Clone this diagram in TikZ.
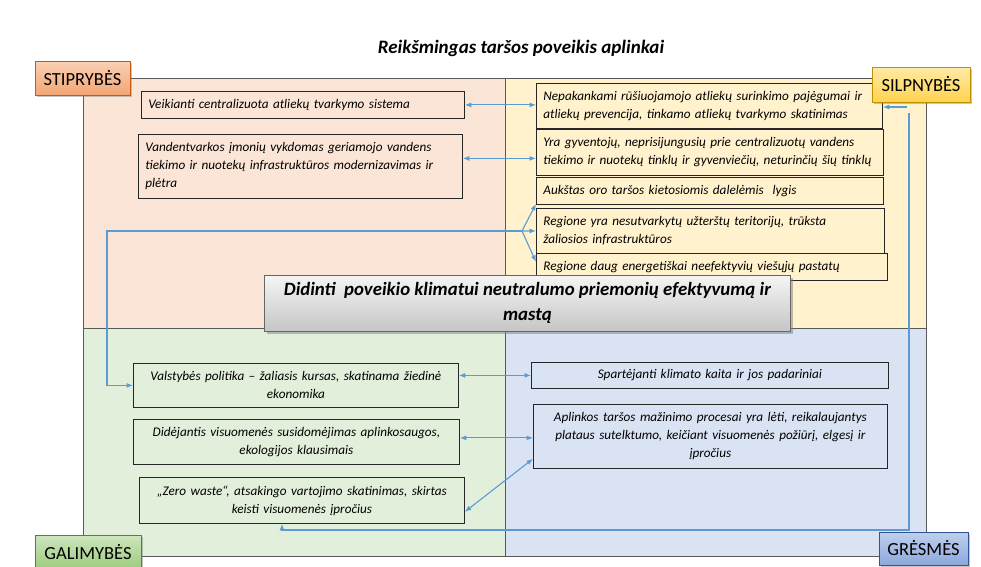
\documentclass[tikz,border=0pt]{standalone}
\usepackage{fontspec}
\setmainfont{Carlito}
\usetikzlibrary{arrows.meta,shadows,positioning}
\definecolor{strongbg}{HTML}{FBE5D6}
\definecolor{weakbg}{HTML}{FFF2CC}
\definecolor{chancebg}{HTML}{E2EFDA}
\definecolor{threatbg}{HTML}{DAE3F3}
\definecolor{linkblue}{HTML}{5B9BD5}
\definecolor{strongtop}{HTML}{FAD0B4}
\definecolor{strongbot}{HTML}{F3A674}
\definecolor{strongline}{HTML}{C55A11}
\definecolor{weaktop}{HTML}{FFEAA6}
\definecolor{weakbot}{HTML}{FFD34F}
\definecolor{weakline}{HTML}{BF9000}
\definecolor{chancetop}{HTML}{CDE6BE}
\definecolor{chancebot}{HTML}{9DCB7E}
\definecolor{chanceline}{HTML}{548235}
\definecolor{threattop}{HTML}{C0D0EC}
\definecolor{threatbot}{HTML}{8CA8DB}
\definecolor{threatline}{HTML}{2F5597}

\begin{document}
\begin{tikzpicture}[x=1pt,y=-1pt,
 box/.style={draw=black!85,line width=0.8pt,anchor=north west,inner xsep=7pt,inner ysep=1pt,
  font=\itshape\fontsize{13.2}{18}\selectfont},
 tag/.style={line width=0.8pt,inner xsep=3pt,font=\fontsize{18.5}{20}\selectfont,
  drop shadow={shadow xshift=2pt,shadow yshift=-2pt,opacity=0.45}},
 frame/.style={draw=black!65,line width=1pt},
 link/.style={draw=linkblue,line width=1.1pt},
 onearrow/.style={-{Latex[length=6.5pt,width=5pt]}},
 twoarrow/.style={{Latex[length=6.5pt,width=5pt]}-{Latex[length=6.5pt,width=5pt]}}]
\useasboundingbox (0,0) rectangle (981,566);

\fill[strongbg] (83,78) rectangle (505,328);
\fill[weakbg] (505,78) rectangle (926,328);
\fill[chancebg] (83,328) rectangle (505,556);
\fill[threatbg] (505,328) rectangle (926,556);
\draw[frame] (83,78) rectangle (926,556) (505,78) -- (505,556) (83,328) -- (926,328);

\node[font=\bfseries\itshape\fontsize{19}{22}\selectfont] (title) at (521,48) {Reikšmingas taršos poveikis aplinkai};

\node[box,fill=strongbg,text width=309pt,minimum height=27pt,align=left] (s1) at (141,91)
 {Veikianti centralizuota atliekų tvarkymo sistema};
\node[box,fill=strongbg,text width=310pt,minimum height=64pt,align=left] (s2) at (138,134)
 {Vandentvarkos įmonių vykdomas geriamojo vandens\\tiekimo ir nuotekų infrastruktūros modernizavimas ir\\plėtra};

\node[box,fill=weakbg,text width=332pt,minimum height=45pt,align=left] (w1) at (536,83)
 {Nepakankami rūšiuojamojo atliekų surinkimo pajėgumai ir\\atliekų prevencija, tinkamo atliekų tvarkymo skatinimas};
\node[box,fill=weakbg,text width=333pt,minimum height=46pt,align=left] (w2) at (536,129)
 {Yra gyventojų, neprisijungusių prie centralizuotų vandens\\tiekimo ir nuotekų tinklų ir gyvenviečių, neturinčių šių tinklų};
\node[box,fill=weakbg,text width=333pt,minimum height=27pt,align=left] (w3) at (536,177)
 {Aukštas oro taršos kietosiomis dalelėmis\ \ lygis};
\node[box,fill=weakbg,text width=334pt,minimum height=45pt,align=left] (w4) at (536,208)
 {Regione yra nesutvarkytų užterštų teritorijų, trūksta\\žaliosios infrastruktūros};
\node[box,fill=weakbg,text width=337pt,minimum height=27pt,align=left] (w5) at (536,253)
 {Regione daug energetiškai neefektyvių viešųjų pastatų};

\node[box,fill=chancebg,text width=311pt,minimum height=44pt,align=center] (o1) at (133,363)
 {Valstybės politika – žaliasis kursas, skatinama žiedinė\\ekonomika};
\node[box,fill=chancebg,text width=312pt,minimum height=45pt,align=center] (o2) at (133,419)
 {Didėjantis visuomenės susidomėjimas aplinkosaugos,\\ekologijos klausimais};
\node[box,fill=chancebg,text width=311pt,minimum height=46pt,align=center] (o3) at (139,477)
 {„Zero waste“, atsakingo vartojimo skatinimas, skirtas\\keisti visuomenės įpročius};

\node[box,fill=threatbg,text width=343pt,minimum height=26pt,align=center] (t1) at (531,362)
 {Spartėjanti klimato kaita ir jos padariniai};
\node[box,fill=threatbg,text width=340pt,minimum height=64pt,align=center] (t2) at (533,404)
 {Aplinkos taršos mažinimo procesai yra lėti, reikalaujantys\\plataus sutelktumo, keičiant visuomenės požiūrį, elgesį ir\\įpročius};

\node[draw=black!60,line width=0.8pt,anchor=north west,minimum width=526pt,minimum height=56pt,
 top color=gray!8,bottom color=gray!45,align=center,inner ysep=1pt,
 drop shadow={shadow xshift=3pt,shadow yshift=-3pt,opacity=0.5},
 font=\bfseries\itshape\fontsize{18.8}{25}\selectfont] (goal) at (264,275)
 {Didinti\ \ poveikio klimatui neutralumo priemonių efektyvumą ir\\mastą};

\node[tag,draw=strongline,top color=strongtop,bottom color=strongbot,minimum width=95pt,minimum height=34pt] (strong) at (82.5,78) {STIPRYBĖS};
\node[tag,draw=weakline,top color=weaktop,bottom color=weakbot,minimum width=98pt,minimum height=35pt] (weak) at (921,84.5) {SILPNYBĖS};
\node[tag,draw=chanceline,top color=chancetop,bottom color=chancebot,minimum width=106pt,minimum height=34pt] (chance) at (88,552) {GALIMYBĖS};
\node[tag,draw=threatline,top color=threattop,bottom color=threatbot,minimum width=89pt,minimum height=33pt] (threat) at (923.5,548.5) {GRĖSMĖS};

\coordinate (w2in) at ([yshift=-6pt]w2.west);
\coordinate (o2in) at ([yshift=4pt]o2.east);
\coordinate (fork) at (522,231);
\coordinate (bend) at (107,231);
\coordinate (wtop) at (907,107);
\coordinate (rtop) at (909,113);
\coordinate (rlow) at (909,530);
\coordinate (olow) at (282,530);

\draw[link,twoarrow] (s1.east) -- (s1.east -| w1.west);
\draw[link,twoarrow] (w2in -| s2.east) -- (w2in);
\draw[link,onearrow] (fork) -- (w4.west);
\draw[link,onearrow] (fork) -- ([yshift=1pt]w3.south west);
\draw[link,onearrow] (fork) -- ([yshift=-9pt]w5.north west);
\draw[link,onearrow] (fork) -- (bend) |- (o1.west);
\draw[link,twoarrow] (t1.west -| o1.east) -- (t1.west);
\draw[link,twoarrow] (o2in) -- (o2in -| t2.west);
\draw[link,twoarrow] ([yshift=12pt]o3.south east) -- ([yshift=10pt]t2.south west);
\draw[link,onearrow] (wtop) -- (wtop -| w1.east);
\draw[link,onearrow] (rtop) -- (rlow) -- (olow) -- (olow |- o3.south);
\end{tikzpicture}
\end{document}
